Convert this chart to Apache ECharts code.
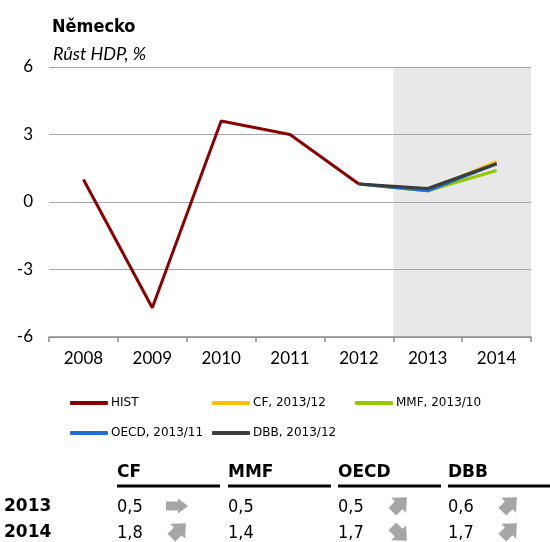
<!DOCTYPE html>
<html>
<head>
<meta charset="utf-8">
<script src="https://cdn.jsdelivr.net/npm/echarts@6/dist/echarts.min.js"></script>
<style>
  html, body { margin: 0; padding: 0; background: #fff; }
  #chart { width: 550px; height: 542px; }
</style>
</head>
<body>
<div id="chart"></div>
<script>
const years = ["2008", "2009", "2010", "2011", "2012", "2013", "2014"];
const yTicks = { min: -6, max: 6, step: 3 };
const gridValues = [-3, 0, 3, 6];
const forecastFrom = "2013";

const hist = [1.0, -4.7, 3.6, 3.0, 0.8, null, null];
const cf = [null, null, null, null, 0.8, 0.5, 1.8];
const mmf = [null, null, null, null, 0.8, 0.5, 1.4];
const oecd = [null, null, null, null, 0.8, 0.5, 1.7];
const dbb = [null, null, null, null, 0.8, 0.6, 1.7];

// table: arrow direction vs. previous forecast (null = no arrow)
const tableYears = ["2013", "2014"];
const cfTrend = ["right", "up"];
const mmfTrend = [null, null];
const oecdTrend = ["up", "down"];
const dbbTrend = ["up", "up"];

const tahoma = '"DejaVu Sans Condensed", "DejaVu Sans", sans-serif';
const verdana = '"DejaVu Sans", sans-serif';
const calibri = 'Lato, "Open Sans", sans-serif';

const sources = [
  { name: "HIST", data: hist, color: "#8b0000" },
  { name: "CF, 2013/12", short: "CF", data: cf, trend: cfTrend, color: "#ffc000" },
  { name: "MMF, 2013/10", short: "MMF", data: mmf, trend: mmfTrend, color: "#92c800" },
  { name: "OECD, 2013/11", short: "OECD", data: oecd, trend: oecdTrend, color: "#1f6fd0" },
  { name: "DBB, 2013/12", short: "DBB", data: dbb, trend: dbbTrend, color: "#3c3c3c" },
];

const lineSeries = sources.map((s) => ({
  name: s.name,
  type: "line",
  data: s.data,
  symbol: "none",
  z: 3,
  lineStyle: { color: s.color, width: 3 },
  itemStyle: { color: s.color },
}));

// pixel row that a 1px axis split line lands on
const gridRow = (y) => {
  const d = Math.round(y * 2);
  return Math.floor(d % 2 === 1 ? d / 2 : (d + 1) / 2);
};

// shaded forecast band (hidden value axis) with the gridlines redrawn over it
const bandSeries = {
  type: "custom",
  xAxisIndex: 1,
  z: 1,
  silent: true,
  data: [[years.indexOf(forecastFrom), years.length]],
  encode: { x: [0, 1] },
  renderItem: (params, api) => {
    const p0 = api.coord([api.value(0), yTicks.max]);
    const p1 = api.coord([api.value(1), yTicks.min]);
    const children = [{
      type: "rect",
      shape: { x: p0[0], y: p0[1], width: p1[0] - p0[0], height: p1[1] - p0[1] },
      style: { fill: "#e8e8e8" },
    }];
    gridValues.forEach((v) => {
      children.push({
        type: "rect",
        z2: 10,
        shape: { x: p0[0], y: gridRow(api.coord([0, v])[1]), width: p1[0] - p0[0], height: 1 },
        style: { fill: "#a6a6a6" },
      });
    });
    return { type: "group", children };
  },
};

// table built from the forecast series
const colX = [117, 228, 338, 448];
const headerY = 473;
const rowY = [507, 533];
const arrowPts = [[-11, -4.5], [1, -4.5], [1, -7.5], [11, 0], [1, 7.5], [1, 4.5], [-11, 4.5]];
const diagPts = [[-8, -5.5], [1, -5.5], [1, -10.5], [12.5, 0], [1, 10.5], [1, 5.5], [-8, 5.5]];
const fmt = (v) => v.toFixed(1).replace(".", ",");

const graphics = [];
sources.slice(1).forEach((s, i) => {
  const x = colX[i];
  graphics.push({
    type: "text", x: x, y: headerY,
    style: { text: s.short, font: "bold 17px " + verdana, fill: "#000", verticalAlign: "middle" },
  });
  graphics.push({
    type: "line",
    shape: { x1: x, y1: 486, x2: x + 103, y2: 486 },
    style: { stroke: "#000", lineWidth: 3 },
  });
  tableYears.forEach((yr, r) => {
    const v = s.data[years.indexOf(yr)];
    graphics.push({
      type: "text", x: x, y: rowY[r],
      style: { text: fmt(v), font: "18px " + tahoma, fill: "#000", verticalAlign: "middle" },
    });
    const t = s.trend[r];
    if (t) {
      graphics.push({
        type: "polygon", x: x + 60, y: rowY[r] - 1,
        rotation: t === "right" ? 0 : t === "up" ? Math.PI / 4 : -Math.PI / 4,
        shape: { points: t === "right" ? arrowPts : diagPts },
        style: { fill: "#a6a6a6" },
      });
    }
  });
});
tableYears.forEach((yr, r) => {
  graphics.push({
    type: "text", x: 4, y: rowY[r],
    style: { text: yr, font: "bold 17px " + verdana, fill: "#000", verticalAlign: "middle" },
  });
});

const legendBase = {
  orient: "vertical",
  top: 397,
  padding: 0,
  itemWidth: 38,
  itemHeight: 4,
  itemGap: 18,
  icon: "roundRect",
  textStyle: { fontFamily: verdana, fontSize: 12, color: "#000", padding: [0, 0, 0, -2] },
};

const option = {
  animation: false,
  backgroundColor: "#fff",
  title: [
    { text: "Německo", left: 52, top: 18, padding: 0, textStyle: { fontFamily: tahoma, fontSize: 18, fontWeight: "bold", color: "#000" } },
    { text: "Růst HDP, %", left: 53, top: 45, padding: 0, textStyle: { fontFamily: calibri, fontSize: 18, fontStyle: "italic", fontWeight: "normal", color: "#000" } },
  ],
  grid: { left: 49, right: 19, top: 67, bottom: 205, containLabel: false },
  legend: [
    Object.assign({}, legendBase, { left: 70, data: ["HIST", "OECD, 2013/11"] }),
    Object.assign({}, legendBase, { left: 212, data: ["CF, 2013/12", "DBB, 2013/12"] }),
    Object.assign({}, legendBase, { left: 355, data: ["MMF, 2013/10"] }),
  ],
  xAxis: [
    {
      type: "category",
      data: years,
      boundaryGap: true,
      z: 2,
      axisLine: { onZero: false, lineStyle: { color: "#8c8c8c", width: 1.5 } },
      axisTick: { show: true, length: 5, lineStyle: { color: "#8c8c8c", width: 1.5 } },
      axisLabel: { color: "#000", fontFamily: calibri, fontSize: 17, margin: 13 },
    },
    { type: "value", min: 0, max: years.length, show: false },
  ],
  yAxis: {
    type: "value",
    min: yTicks.min,
    max: yTicks.max,
    interval: yTicks.step,
    axisLine: { show: false },
    axisTick: { show: false },
    axisLabel: { color: "#000", fontFamily: calibri, fontSize: 17, margin: 16 },
    splitLine: { lineStyle: { color: "#a6a6a6", width: 1 } },
  },
  series: [bandSeries].concat(lineSeries),
  graphic: graphics,
};

const chart = echarts.init(document.getElementById("chart"), null, { renderer: "canvas" });
chart.setOption(option);
</script>
</body>
</html>
